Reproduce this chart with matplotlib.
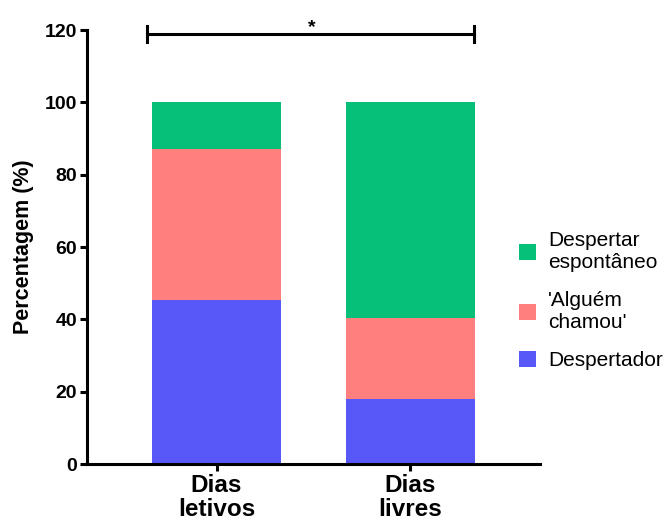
import matplotlib.pyplot as plt
import numpy as np

# dados (%)
categorias = ['Dias\nletivos', 'Dias\nlivres']
despertador = [45.3, 18.0]
alguem_chamou = [41.8, 22.4]
espontaneo = [12.9, 59.6]

cores = {'despertador': '#5858F8', 'alguem': '#FF7F7F', 'espontaneo': '#06BF78'}

plt.rcParams['font.family'] = ['Liberation Sans', 'DejaVu Sans']

fig = plt.figure(figsize=(6.7, 5.23), dpi=100)
ax = fig.add_axes([0.1299, 0.1128, 0.676, 0.8298])

x = np.arange(len(categorias))
largura = 0.665
base2 = np.array(despertador)
base3 = base2 + np.array(alguem_chamou)

b1 = ax.bar(x, despertador, largura, color=cores['despertador'], label='Despertador')
b2 = ax.bar(x, alguem_chamou, largura, bottom=base2, color=cores['alguem'], label="'Alguém\nchamou'")
b3 = ax.bar(x, espontaneo, largura, bottom=base3, color=cores['espontaneo'], label='Despertar\nespontâneo')

ax.set_xlim(-0.668, 1.668)
ax.set_ylim(0, 120)
ax.set_yticks(np.arange(0, 121, 20))
ax.set_xticks(x)
ax.set_xticklabels(categorias, fontsize=17.5, fontweight='bold', linespacing=1.05)
for lbl in ax.get_yticklabels():
    lbl.set_fontsize(14)
    lbl.set_fontweight('bold')
ax.set_ylabel('Percentagem (%)', fontsize=15.5, fontweight='bold', labelpad=8)

for s in ['top', 'right']:
    ax.spines[s].set_visible(False)
for s in ['left', 'bottom']:
    ax.spines[s].set_linewidth(2.2)
ax.tick_params(width=2.2, length=5, pad=2)

# barra de significância
yb = 119
ax.plot([-0.36, 1.33], [yb, yb], color='black', lw=2.2, clip_on=False)
ax.plot([-0.36, -0.36], [116.8, 121], color='black', lw=2.2, clip_on=False)
ax.plot([1.33, 1.33], [116.8, 121], color='black', lw=2.2, clip_on=False)
ax.text(0.49, yb - 0.6, '*', ha='center', va='bottom', fontsize=14, fontweight='bold')

ax.legend(handles=[b3, b2, b1], loc='center left', bbox_to_anchor=(0.954, 0.376),
          frameon=False, fontsize=15, handlelength=0.8, handleheight=0.8,
          handletextpad=0.6, labelspacing=0.9, borderaxespad=0, borderpad=0,
          alignment='left')

fig.savefig('out.png', dpi=100)
